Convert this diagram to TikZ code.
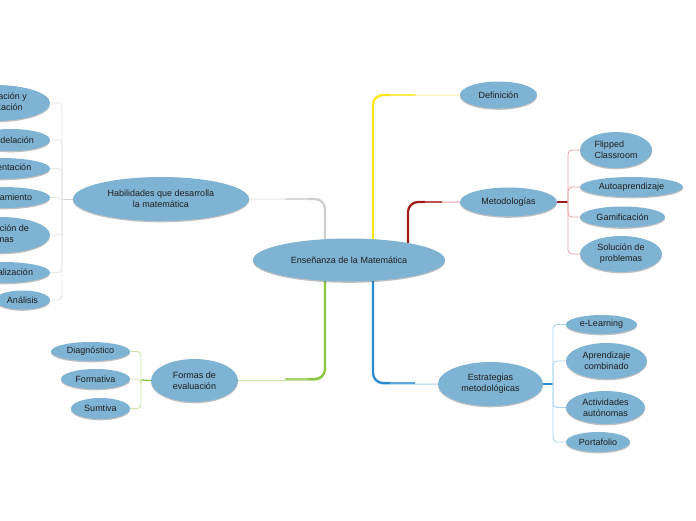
\documentclass[tikz,border=0pt]{standalone}
\usepackage{fontspec}
\setmainfont{Liberation Sans}
\usetikzlibrary{shapes.geometric,shadows}
\definecolor{nfill}{HTML}{7FB3D3}
\definecolor{txt}{HTML}{1E1E1E}
\definecolor{grayMain}{HTML}{CFCFCF}
\definecolor{grayLight}{HTML}{E6E6E6}
\definecolor{yelMain}{HTML}{FFE81A}
\definecolor{yelLight}{HTML}{FFF3A0}
\definecolor{redMain}{HTML}{A01C1C}
\definecolor{redLight}{HTML}{E6A3A3}
\definecolor{bluMain}{HTML}{2A8AD2}
\definecolor{bluLight}{HTML}{A9D3F0}
\definecolor{grnMain}{HTML}{8CC63F}
\definecolor{grnLight}{HTML}{CBE5A8}
\pgfdeclarelayer{bg}
\pgfsetlayers{bg,main}
\tikzset{
  ell/.style={ellipse, fill=nfill, inner sep=0pt, text=txt, align=center,
    font=\fontsize{9}{11}\selectfont,
    drop shadow={shadow xshift=0pt, shadow yshift=-1.3pt, opacity=0.35, fill=black!70}},
  mainlight/.style={line width=1pt, rounded corners=10pt},
  mainmid/.style={line width=1.6pt, rounded corners=10pt},
  mainstrong/.style={line width=2.2pt, rounded corners=10pt},
  sub/.style={line width=0.8pt, rounded corners=4pt},
}
\begin{document}
\begin{tikzpicture}[x=1pt,y=-1pt]
\useasboundingbox (0,0) rectangle (696,520);
\clip (0,0) rectangle (696,520);
% nodes
\node[ell, minimum width=192pt, minimum height=43pt] (cen) at (349,260) {Enseñanza de la Matemática};
\node[ell, minimum width=176pt, minimum height=44pt] (hab) at (161,199) {Habilidades que desarrolla\\la matemática};
\node[ell, minimum width=110pt, minimum height=36pt, align=left] (h1) at (-5,103) {Comunicación y\\representación};
\node[ell, minimum width=78pt, minimum height=22pt] (h2) at (11,140) {Modelación};
\node[ell, minimum width=98pt, minimum height=21pt] (h3) at (1,168.5) {Argumentación};
\node[ell, minimum width=94pt, minimum height=21pt] (h4) at (3,197.5) {Razonamiento};
\node[ell, minimum width=99pt, minimum height=36pt, align=left] (h5) at (0.5,235) {Resolución de\\problemas};
\node[ell, minimum width=94pt, minimum height=21pt] (h6) at (3,272.5) {Generalización};
\node[ell, minimum width=55pt, minimum height=19pt] (h7) at (22.5,300) {Análisis};

\node[ell, minimum width=77pt, minimum height=27pt] (def) at (498.5,95) {Definición};
\node[ell, minimum width=97pt, minimum height=29pt] (met) at (508.5,202) {Metodologías};
\node[ell, minimum width=72pt, minimum height=36pt, align=left] (m1) at (616,150) {Flipped\\Classroom};
\node[ell, minimum width=103pt, minimum height=20pt] (m2) at (631.5,187) {Autoaprendizaje};
\node[ell, minimum width=85pt, minimum height=21pt] (m3) at (622.5,217) {Gamificación};
\node[ell, minimum width=82pt, minimum height=36pt] (m4) at (621,254) {Solución de\\problemas};

\node[ell, minimum width=105pt, minimum height=44pt] (est) at (490.5,384) {Estrategias\\metodológicas};
\node[ell, minimum width=71pt, minimum height=19pt] (e1) at (601.5,324.5) {e-Learning};
\node[ell, minimum width=81pt, minimum height=36pt] (e2) at (606.5,361) {Aprendizaje\\combinado};
\node[ell, minimum width=79pt, minimum height=33pt] (e3) at (605.5,407.5) {Actividades\\autónomas};
\node[ell, minimum width=64pt, minimum height=20pt] (e4) at (598,442) {Portafolio};

\node[ell, minimum width=87pt, minimum height=43pt] (for) at (194.5,380.5) {Formas de\\evaluación};
\node[ell, minimum width=79pt, minimum height=19pt] (f1) at (90.5,351.5) {Diagnóstico};
\node[ell, minimum width=69pt, minimum height=20pt] (f2) at (95.5,379) {Formativa};
\node[ell, minimum width=59pt, minimum height=21pt] (f3) at (100.5,408.5) {Sumtiva};

% coordinates
\coordinate (cg) at (325,262);
\coordinate (cy) at (373,262);
\coordinate (cr) at (408,262);
\coordinate (gk) at (308,199);   \coordinate (gm) at (285,199);
\coordinate (yk) at (390,95);    \coordinate (ym) at (415,95);
\coordinate (rk) at (425,202);   \coordinate (rm) at (442,202);
\coordinate (bk) at (390,383);   \coordinate (bm) at (415,383);
\coordinate (grk) at (308,379);  \coordinate (grm) at (285,379);
\coordinate (hb) at (62,199);
\coordinate (mb) at (568,202);
\coordinate (eb) at (553,384);
\coordinate (fb) at (141,380);

\begin{pgfonlayer}{bg}
\fill[white] (0,0) rectangle (696,520);
% main branches
\draw[mainlight, grayLight] (cg) |- (hab.east);
\draw[mainmid, grayMain!60!grayLight] (cg) |- (gm);
\draw[mainstrong, grayMain] (cg) |- (gk);
\draw[mainlight, yelLight] (cy) |- (def.west);
\draw[mainmid, yelMain!60!yelLight] (cy) |- (ym);
\draw[mainstrong, yelMain] (cy) |- (yk);
\draw[mainlight, redLight] (cr) |- (met.west);
\draw[mainmid, redMain!60!redLight] (cr) |- (rm);
\draw[mainstrong, redMain] (cr) |- (rk);
\draw[mainlight, bluLight] (cy) |- (est.west);
\draw[mainmid, bluMain!60!bluLight] (cy) |- (bm);
\draw[mainstrong, bluMain] (cy) |- (bk);
\draw[mainlight, grnLight] (cg) |- (for.east);
\draw[mainmid, grnMain!60!grnLight] (cg) |- (grm);
\draw[mainstrong, grnMain] (cg) |- (grk);
% habilidades
\draw[line width=1pt, grayMain] (hab.west) -- (hb);
\foreach \n in {h1,h2,h3,h4,h5,h6,h7} \draw[sub, grayLight] (hb) |- (\n.east);
% metodologias
\draw[line width=1.3pt, redMain] (met.east) -- (mb);
\foreach \n in {m1,m2,m3,m4} \draw[sub, redLight] (mb) |- (\n.west);
% estrategias
\draw[line width=1.3pt, bluMain] (est.east) -- (eb);
\foreach \n in {e1,e2,e3,e4} \draw[sub, bluLight] (eb) |- (\n.west);
% formas
\draw[line width=1.3pt, grnMain] (for.west) -- (fb);
\foreach \n in {f1,f2,f3} \draw[sub, grnLight] (fb) |- (\n.east);
\end{pgfonlayer}
\end{tikzpicture}
\end{document}
